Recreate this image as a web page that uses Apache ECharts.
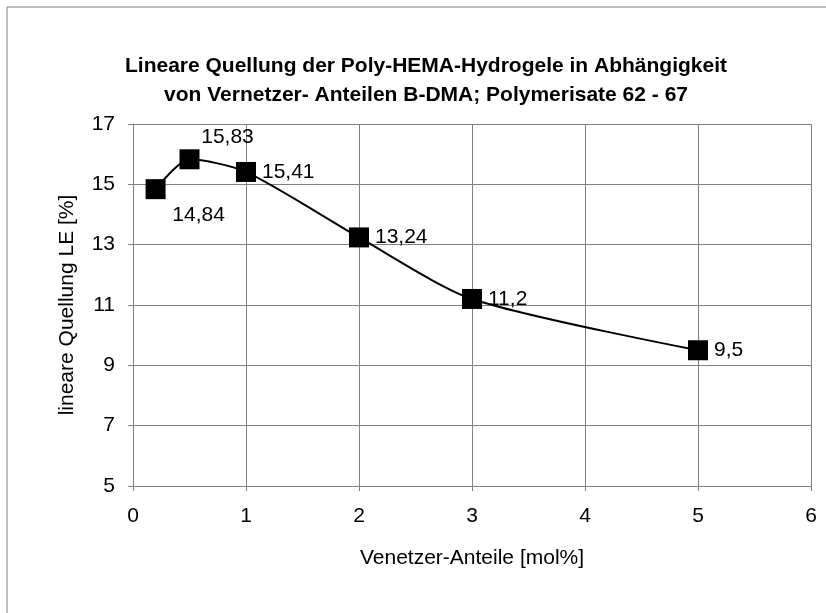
<!DOCTYPE html>
<html>
<head>
<meta charset="utf-8">
<script src="https://cdn.jsdelivr.net/npm/echarts@6/dist/echarts.min.js"></script>
<style>
  html, body { margin: 0; padding: 0; background: #fff; }
  #main { width: 826px; height: 613px; }
</style>
</head>
<body>
<div id="main"></div>
<script>
// Vernetzer-Anteile [mol%] und lineare Quellung LE [%]
var xValues = [0.2, 0.5, 1, 2, 3, 5];
var yValues = [14.84, 15.83, 15.41, 13.24, 11.2, 9.5];
// Position der Beschriftung je Punkt
var labelPos = ['below', 'above', 'right', 'right', 'right', 'right'];

var titleLines = [
    'Lineare Quellung der Poly-HEMA-Hydrogele in Abhängigkeit',
    'von Vernetzer- Anteilen B-DMA; Polymerisate 62 - 67'
];

var chart = echarts.init(document.getElementById('main'));

var seriesData = [];
for (var i = 0; i < xValues.length; i++) {
    var lbl = { position: 'right', distance: 6 };
    if (labelPos[i] == 'above') {
        lbl = { position: 'top', offset: [38, 0], distance: 2 };
    } else if (labelPos[i] == 'below') {
        lbl = { position: 'bottom', offset: [43, 4], distance: 2 };
    }
    seriesData.push({ value: [xValues[i], yValues[i]], label: lbl });
}

var font = 'Liberation Sans, Arial, sans-serif';

var option = {
    backgroundColor: '#fff',
    animation: false,
    title: {
        text: titleLines.join('\n'),
        left: 421,
        top: 47,
        textAlign: 'center',
        textStyle: {
            fontFamily: font,
            fontSize: 21,
            fontWeight: 'bold',
            color: '#000',
            lineHeight: 29
        }
    },
    graphic: [{
        type: 'rect',
        shape: { x: 7, y: 7, width: 900, height: 700 },
        style: { fill: 'none', stroke: '#808080', lineWidth: 1 },
        silent: true
    }],
    grid: {
        left: 133,
        right: 15,
        top: 124,
        bottom: 127
    },
    xAxis: {
        type: 'value',
        min: 0,
        max: 6,
        interval: 1,
        name: 'Venetzer-Anteile [mol%]',
        nameLocation: 'middle',
        nameGap: 62,
        nameTextStyle: { fontFamily: font, fontSize: 21, color: '#000' },
        axisLine: { show: true, lineStyle: { color: '#808080', width: 1 } },
        axisTick: { show: true, length: 5, lineStyle: { color: '#808080' } },
        axisLabel: { fontFamily: font, fontSize: 21, color: '#000', margin: 20 },
        splitLine: { show: true, lineStyle: { color: '#808080', width: 1 } }
    },
    yAxis: {
        type: 'value',
        min: 5,
        max: 17,
        interval: 2,
        name: 'lineare Quellung LE [%]',
        nameLocation: 'middle',
        nameGap: 55,
        nameTextStyle: { fontFamily: font, fontSize: 21, color: '#000' },
        axisLine: { show: true, lineStyle: { color: '#808080', width: 1 } },
        axisTick: { show: true, length: 5, lineStyle: { color: '#808080' } },
        axisLabel: { fontFamily: font, fontSize: 21, color: '#000', margin: 18 },
        splitLine: { show: true, lineStyle: { color: '#808080', width: 1 } }
    },
    series: [{
        type: 'line',
        data: seriesData,
        smooth: 0.25,
        symbol: 'rect',
        symbolSize: 20,
        itemStyle: { color: '#000' },
        lineStyle: { color: '#000', width: 2 },
        label: {
            show: true,
            fontFamily: font,
            fontSize: 21,
            color: '#000',
            formatter: function (p) {
                return String(p.value[1]).replace('.', ',');
            }
        }
    }]
};

chart.setOption(option);
</script>
</body>
</html>
